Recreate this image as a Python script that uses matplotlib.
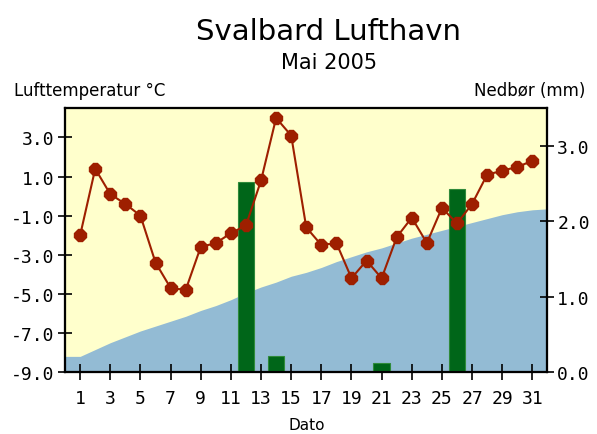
import numpy as np
import matplotlib
matplotlib.use("Agg")
from matplotlib import pyplot as plt

# daily mean temperature, May 2005 (deg C)
days = list(range(1, 32))
temp = [-2.0, 1.4, 0.1, -0.4, -1.0, -3.4, -4.7, -4.8, -2.6, -2.4,
        -1.9, -1.5, 0.8, 4.0, 3.1, -1.6, -2.5, -2.4, -4.2, -3.3,
        -4.2, -2.1, -1.1, -2.4, -0.6, -1.4, -0.4, 1.1, 1.3, 1.5, 1.8]

# normal temperature (blue area), day 0..32
norm_days = list(range(0, 33))
norm_temp = [-8.2, -8.2, -7.85, -7.5, -7.2, -6.9, -6.65, -6.4, -6.15, -5.85,
             -5.6, -5.3, -4.95, -4.65, -4.4, -4.1, -3.9, -3.65, -3.35, -3.1,
             -2.85, -2.65, -2.4, -2.15, -1.95, -1.75, -1.55, -1.35, -1.15, -0.95,
             -0.8, -0.7, -0.65]

# precipitation (mm)
rain_days = [12, 14, 21, 26]
rain = [2.52, 0.21, 0.12, 2.43]

temp_ticks = [-9, -7, -5, -3, -1, 1, 3]
rain_ticks = [0, 1, 2, 3]
day_ticks = list(range(1, 32, 2))

yellow = "#ffffcc"
blue = "#93bbd4"
green = "#006619"
red = "#9e1f00"

fig = plt.figure(figsize=(5.97, 4.35), dpi=100)
ax = fig.add_axes([0.109, 0.1425, 0.808, 0.6065])
ax.set_facecolor(yellow)

ax.fill_between(norm_days, -9, norm_temp, color=blue, lw=0)
ax.set_xlim(0, 32)
ax.set_ylim(-9, 4.5)
ax.set_yticks(temp_ticks)
ax.set_yticklabels(["%.1f" % t for t in temp_ticks])
ax.set_xticks(day_ticks)
ax.set_xticklabels([str(d) for d in day_ticks])

ax2 = ax.twinx()
ax2.bar(rain_days, rain, width=1.1, color=green, edgecolor="#2f8a3a", lw=0.8)
ax2.set_ylim(0, 3.5)
ax2.set_yticks(rain_ticks)
ax2.set_yticklabels(["%.1f" % r for r in rain_ticks])

ax3 = ax.twinx()
ax3.plot(days, temp, color=red, lw=1.5, marker="8", ms=9, mec=red, mfc=red)
ax3.set_ylim(ax.get_ylim())
ax3.set_yticks([])

mono = "DejaVu Sans Mono"
ax.tick_params(axis="y", direction="inout", length=10, width=1.2, pad=3,
               labelsize=13, labelfontfamily=mono)
ax.tick_params(axis="x", direction="inout", length=12, width=1.2, pad=6,
               labelsize=13, labelfontfamily=mono)
ax2.tick_params(axis="y", direction="inout", length=10, width=1.2, pad=2,
                labelsize=13, labelfontfamily=mono)
for a in (ax, ax2, ax3):
    for s in a.spines.values():
        s.set_linewidth(1.5)

fig.text(0.551, 0.926, "Svalbard Lufthavn", ha="center", va="center", fontsize=21)
fig.text(0.551, 0.855, "Mai 2005", ha="center", va="center", fontsize=15)
fig.text(0.024, 0.791, "Lufttemperatur \u00b0C", ha="left", va="center", fontsize=12)
fig.text(0.98, 0.791, "Nedbør (mm)", ha="right", va="center", fontsize=12)
fig.text(0.514, 0.021, "Dato", ha="center", va="center", fontsize=11)

fig.savefig("out.png", dpi=100)
